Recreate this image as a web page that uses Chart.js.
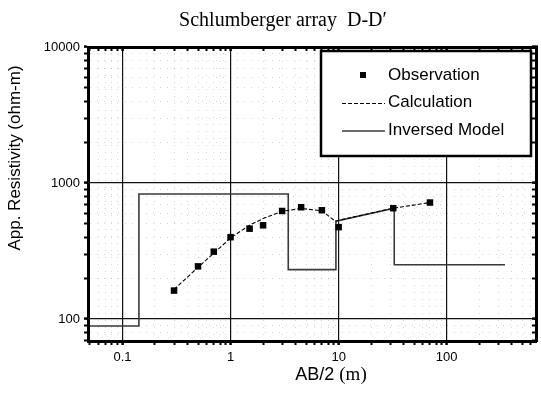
<!DOCTYPE html>
<html>
<head>
<meta charset="utf-8">
<title>Schlumberger array D-D'</title>
<script src="https://cdn.jsdelivr.net/npm/chart.js@4.4.1/dist/chart.umd.min.js"></script>
<style>
  html, body { margin: 0; padding: 0; background: #fff; }
  #wrap { width: 541px; height: 393px; }
</style>
</head>
<body>
<div id="wrap"><canvas id="sounding"></canvas></div>
<script>
// Observed apparent resistivity
const obsAB = [0.3, 0.5, 0.7, 1, 1.5, 2, 3, 4.5, 7, 10, 32, 70];
const obsRho = [162, 244, 313, 400, 462, 489, 623, 664, 631, 474, 653, 719];

// Calculated response of the model
const calcAB = [0.3, 0.5, 0.7, 1, 1.5, 2, 3, 4.5, 7, 9.3, 32, 70];
const calcRho = [165, 240, 305, 395, 490, 548, 620, 650, 625, 525, 653, 719];

// Inversed layer model, as plotted vertex by vertex
const modelAB = [0.05, 0.142, 0.142, 3.42, 3.42, 9.44, 9.44, 32.7, 32.7, 346];
const modelRho = [89, 89, 830, 830, 231, 231, 525, 653, 251, 251];

// Axis labels
const xMajor = [0.1, 1, 10, 100];
const xTickLabels = ["0.1", "1", "10", "100"];
const yMajor = [100, 1000, 10000];
const yTickLabels = ["100", "1000", "10000"];

const chartTitle = "Schlumberger array  D-D\u2032";
const xTitle = "AB/2";
const xUnit = "(m)";
const yTitle = "App. Resistivity (ohm-m)";

const X_MIN = 0.048, X_MAX = 670;
const Y_MIN = 69, Y_MAX = 10000;

// 1..9 multiples of every decade inside [lo, hi]
function logTicks(lo, hi) {
    const out = [];
    for (let e = Math.floor(Math.log10(lo)); e <= Math.ceil(Math.log10(hi)); e++) {
        for (let m = 1; m <= 9; m++) {
            const v = +(m * Math.pow(10, e)).toPrecision(6);
            if (v >= lo * 0.999 && v <= hi * 1.001) out.push(v);
        }
    }
    return out;
}
const xTickValues = logTicks(X_MIN, X_MAX);
const yTickValues = logTicks(Y_MIN, Y_MAX);

const toPoints = (xs, ys) => xs.map((x, i) => ({ x, y: ys[i] }));
const isMajor = (list, v) => list.some(m => Math.abs(m - v) < m * 1e-6);

// Shared look for the framed log axes
function frameAxis(position, tickValues, majors, labels, size, onArea) {
    const horizontal = position === "top" || position === "bottom";
    return {
        type: "logarithmic",
        position,
        min: horizontal ? X_MIN : Y_MIN,
        max: horizontal ? X_MAX : Y_MAX,
        afterBuildTicks: s => { s.ticks = tickValues.map(v => ({ value: v })); },
        afterFit: s => { if (horizontal) s.height = size; else s.width = size; },
        border: {
            display: true,
            color: "#000",
            width: 3,
            dash: ctx => (ctx.tick && isMajor(majors, ctx.tick.value)) ? [] : [1, 6]
        },
        grid: {
            drawOnChartArea: onArea,
            color: ctx => isMajor(majors, ctx.tick.value) ? "#111" : "rgba(0,0,0,0.16)",
            lineWidth: ctx => isMajor(majors, ctx.tick.value) ? 1.2 : 1,
            tickColor: "#000",
            tickWidth: ctx => isMajor(majors, ctx.tick.value) ? 2.5 : 2,
            tickLength: onArea ? 4 : -4
        },
        ticks: {
            display: onArea,
            autoSkip: false,
            maxRotation: 0,
            padding: horizontal ? 5 : 4,
            color: "#000",
            font: { family: "Arial, 'Liberation Sans', sans-serif", size: 13 },
            callback: v => {
                const i = majors.findIndex(m => Math.abs(m - v) < m * 1e-6);
                return i >= 0 ? labels[i] : "";
            }
        }
    };
}

// Title and axis captions
const captionPlugin = {
    id: "captions",
    afterDraw(chart) {
        const ctx = chart.ctx;
        ctx.save();
        ctx.fillStyle = "#000";
        ctx.textBaseline = "middle";
        ctx.textAlign = "center";
        ctx.font = "20px 'Liberation Serif', 'Times New Roman', serif";
        ctx.fillText(chartTitle, 283, 21);

        // x caption: sans name, serif unit
        const sans = "18px 'Liberation Sans', Arial, sans-serif";
        const serif = "19px 'Liberation Serif', 'Times New Roman', serif";
        ctx.font = sans;
        const w1 = ctx.measureText(xTitle + " ").width;
        ctx.font = serif;
        const w2 = ctx.measureText(xUnit).width;
        let x = 331 - (w1 + w2) / 2;
        ctx.textAlign = "left";
        ctx.font = sans;
        ctx.fillText(xTitle + " ", x, 375);
        ctx.font = serif;
        ctx.fillText(xUnit, x + w1, 375);

        ctx.textAlign = "center";
        ctx.translate(15, 158);
        ctx.rotate(-Math.PI / 2);
        ctx.font = "17px 'Liberation Sans', Arial, sans-serif";
        ctx.fillText(yTitle, 0, 0);
        ctx.restore();
    }
};

// Framed legend in the upper right of the plot
const legendBoxPlugin = {
    id: "legendBox",
    afterDatasetsDraw(chart) {
        const ctx = chart.ctx;
        const box = { left: 321, top: 51, right: 531, bottom: 156 };
        ctx.save();
        ctx.fillStyle = "#fff";
        ctx.fillRect(box.left, box.top, box.right - box.left, box.bottom - box.top);
        ctx.strokeStyle = "#000";
        ctx.lineWidth = 2.5;
        ctx.strokeRect(box.left, box.top, box.right - box.left, box.bottom - box.top);
        ctx.font = "17px 'Liberation Sans', Arial, sans-serif";
        ctx.textBaseline = "middle";
        ctx.textAlign = "left";
        chart.data.datasets.forEach((ds, i) => {
            const y = 75 + i * 27.5;
            ctx.fillStyle = "#000";
            ctx.fillText(ds.label, 388, y);
            if (ds.showLine) {
                ctx.beginPath();
                ctx.setLineDash(ds.borderDash || []);
                ctx.strokeStyle = ds.borderColor;
                ctx.lineWidth = ds.borderWidth;
                ctx.moveTo(342, y + 1);
                ctx.lineTo(385, y + 1);
                ctx.stroke();
                ctx.setLineDash([]);
            } else {
                ctx.fillStyle = ds.pointBackgroundColor;
                ctx.fillRect(360, y - 3, 6, 6);
            }
        });
        ctx.restore();
    }
};

new Chart(document.getElementById("sounding"), {
    type: "scatter",
    data: {
        datasets: [
            {
                label: "Observation",
                data: toPoints(obsAB, obsRho),
                showLine: false,
                pointStyle: "rect",
                pointRadius: 4.6,
                pointBackgroundColor: "#000",
                pointBorderColor: "#000",
                pointBorderWidth: 0,
                order: 0
            },
            {
                label: "Calculation",
                data: toPoints(calcAB, calcRho),
                showLine: true,
                borderColor: "#000",
                borderWidth: 1.1,
                borderDash: [4, 2],
                pointRadius: 0,
                order: 1
            },
            {
                label: "Inversed Model",
                data: toPoints(modelAB, modelRho),
                showLine: true,
                borderColor: "#3a3a3a",
                borderWidth: 1.6,
                pointRadius: 0,
                order: 2
            }
        ]
    },
    options: {
        responsive: true,
        maintainAspectRatio: false,
        animation: false,
        layout: { padding: 0 },
        plugins: {
            legend: { display: false },
            tooltip: { enabled: false },
            title: { display: false }
        },
        scales: {
            x: frameAxis("bottom", xTickValues, xMajor, xTickLabels, 52, true),
            y: frameAxis("left", yTickValues, yMajor, yTickLabels, 88, true),
            x2: frameAxis("top", xTickValues, xMajor, xTickLabels, 47, false),
            y2: frameAxis("right", yTickValues, yMajor, yTickLabels, 5, false)
        }
    },
    plugins: [captionPlugin, legendBoxPlugin]
});
</script>
</body>
</html>
